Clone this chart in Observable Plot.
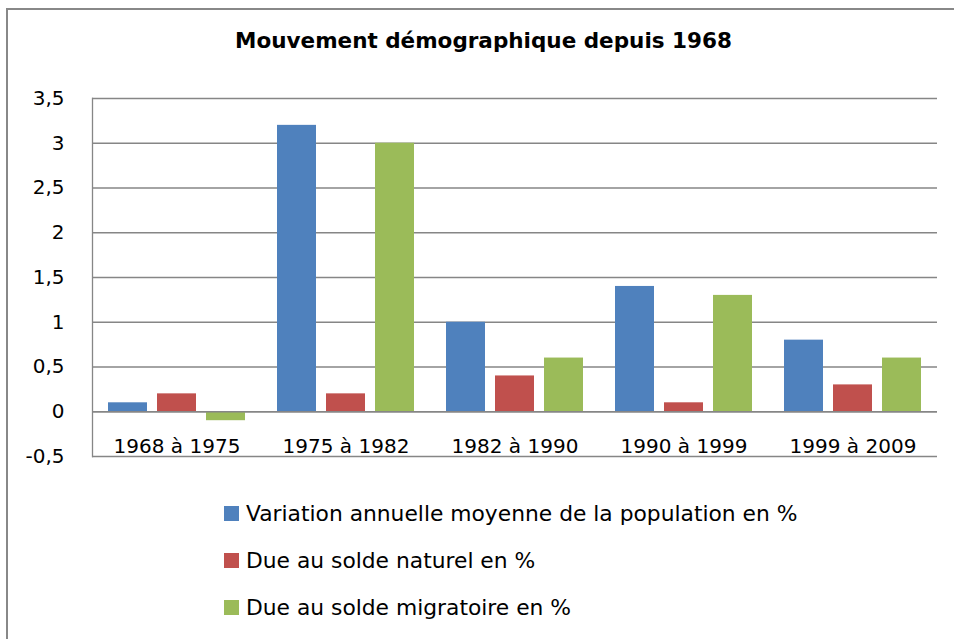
<!DOCTYPE html>
<html>
<head>
<meta charset="utf-8">
<script src="https://cdn.jsdelivr.net/npm/d3@7"></script>
<script src="https://cdn.jsdelivr.net/npm/@observablehq/plot@0.6"></script>
<style>
  body { margin: 0; background: #fff; font-family: "DejaVu Sans", sans-serif; }
  #wrap { position: relative; width: 954px; height: 639px; overflow: hidden; background: #fff; }
  #frame { position: absolute; left: 6px; top: 8px; width: 2000px; height: 2000px; border-top: 2px solid #888; border-left: 2px solid #888; box-sizing: border-box; pointer-events: none; }
  #title { height: 80px; box-sizing: border-box; padding-top: 29px; padding-left: 13px; line-height: 24px; text-align: center; font-weight: bold; font-size: 21.5px; color: #000; }
  #legend { padding-top: 20px; }
  .row { height: 47px; line-height: 47px; padding-left: 224px; font-size: 21.8px; color: #000; white-space: nowrap; }
  .sw { display: inline-block; width: 15px; height: 15px; vertical-align: middle; margin-right: 7px; position: relative; top: -2px; }
  svg { display: block; }
</style>
</head>
<body>
<div id="wrap">
  <div id="title">Mouvement démographique depuis 1968</div>
  <div id="chart"></div>
  <div id="legend"></div>
  <div id="frame"></div>
</div>
<script>
const periods = ["1968 à 1975", "1975 à 1982", "1982 à 1990", "1990 à 1999", "1999 à 2009"];
const seriesNames = [
  "Variation annuelle moyenne de la population en %",
  "Due au solde naturel en %",
  "Due au solde migratoire en %"
];
const seriesColors = ["#4F81BD", "#C0504D", "#9BBB59"];
const variation = [0.1, 3.2, 1.0, 1.4, 0.8];
const naturel = [0.2, 0.2, 0.4, 0.1, 0.3];
const migratoire = [-0.1, 3.0, 0.6, 1.3, 0.6];
const yTicks = [-0.5, 0, 0.5, 1, 1.5, 2, 2.5, 3, 3.5];

const seriesValues = [variation, naturel, migratoire];
const data = [];
periods.forEach((p, i) => {
  seriesNames.forEach((s, j) => data.push({period: p, series: s, value: seriesValues[j][i]}));
});

const fmt = d => String(d).replace(".", ",");

const chart = Plot.plot({
  width: 954,
  height: 390,
  marginTop: 18,
  marginBottom: 14,
  marginLeft: 91,
  marginRight: 16,
  style: {fontFamily: "DejaVu Sans, sans-serif", color: "#000", background: "#fff"},
  fx: {domain: periods, padding: 0, axis: null},
  x: {domain: seriesNames, paddingInner: 0.2, paddingOuter: 0.294, axis: null},
  y: {domain: [-0.5, 3.5], axis: null},
  color: {domain: seriesNames, range: seriesColors},
  marks: [
    Plot.gridY(yTicks, {stroke: "#868686", strokeOpacity: 1, strokeWidth: 1.3}),
    Plot.frame({anchor: "left", stroke: "#868686", strokeWidth: 1.3, facetAnchor: "left"}),
    Plot.axisY(yTicks, {tickSize: 0, tickPadding: 28, tickFormat: fmt, fontSize: 20, label: null}),
    Plot.barY(data, {fx: "period", x: "series", y: "value", fill: "series"}),
    Plot.ruleY([0], {stroke: "#868686", strokeWidth: 1.3}),
    Plot.axisFx({anchor: "bottom", tickSize: 0, tickPadding: 0, lineAnchor: "bottom", dy: -4, fontSize: 20, label: null})
  ]
});
document.getElementById("chart").appendChild(chart);

const legend = document.getElementById("legend");
seriesNames.forEach((s, i) => {
  const row = document.createElement("div");
  row.className = "row";
  const sw = document.createElement("span");
  sw.className = "sw";
  sw.style.background = seriesColors[i];
  row.appendChild(sw);
  row.appendChild(document.createTextNode(s));
  legend.appendChild(row);
});
</script>
</body>
</html>
